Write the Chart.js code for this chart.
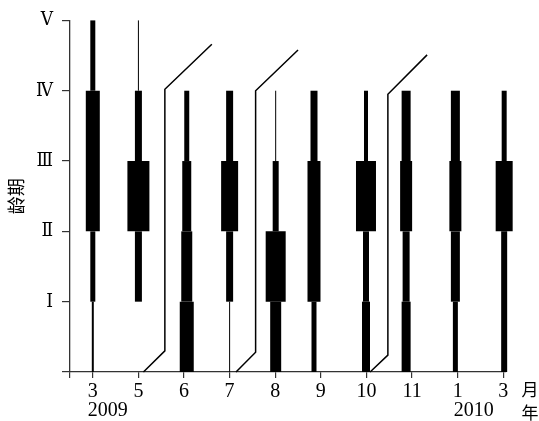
<!DOCTYPE html>
<html>
<head>
<meta charset="utf-8">
<script src="https://cdn.jsdelivr.net/npm/chart.js@4"></script>
<style>
  html, body { margin: 0; padding: 0; background: #fff; }
  #wrap { width: 539px; height: 421px; }
</style>
</head>
<body>
<div id="wrap"><canvas id="c"></canvas></div>
<script>
// 月份 (横轴), 2009-03 到 2010-03
const MONTHS = ["3", "5", "6", "7", "8", "9", "10", "11", "1", "3"];
// 纵轴龄期
const AGE_LABELS = ["", "Ⅰ", "Ⅱ", "Ⅲ", "Ⅳ", "Ⅴ"];
// 每月柱子所在位置 (以月份序号计)
const BAR_POS = [0, 1.0, 2.06, 3.0, 4.01, 4.85, 5.99, 6.87, 7.95, 9.02];

// 各月各龄期的相对数量: [0-Ⅰ, Ⅰ-Ⅱ, Ⅱ-Ⅲ, Ⅲ-Ⅳ, Ⅳ-Ⅴ], 0 = 无
const M2009_03 = [2, 5, 14, 14, 5];
const M2009_05 = [0, 7, 22, 7, 1];
const M2009_06 = [14, 11, 9, 5, 0];
const M2009_07 = [1, 7, 17, 7, 0];
const M2009_08 = [11, 20, 6, 1, 0];
const M2009_09 = [5, 13, 13, 7, 0];
const M2009_10 = [8, 6, 20, 4, 0];
const M2009_11 = [9, 7, 12, 9, 0];
const M2010_01 = [5, 9, 12, 9, 0];
const M2010_03 = [6, 6, 17, 5, 0];
const AMOUNTS = [M2009_03, M2009_05, M2009_06, M2009_07, M2009_08,
                 M2009_09, M2009_10, M2009_11, M2010_01, M2010_03];

// 世代分界折线
const GEN_LINE_1 = [{ x: 1.11, y: 0 }, { x: 1.58, y: 0.30 }, { x: 1.58, y: 4.02 }, { x: 2.61, y: 4.66 }];
const GEN_LINE_2 = [{ x: 3.14, y: 0 }, { x: 3.57, y: 0.28 }, { x: 3.57, y: 4.0 }, { x: 4.50, y: 4.58 }];
const GEN_LINE_3 = [{ x: 6.08, y: 0 }, { x: 6.47, y: 0.24 }, { x: 6.47, y: 3.95 }, { x: 7.33, y: 4.51 }];

const PX_PER_UNIT = 1; // 相对数量 -> 线宽

function barDataset(i) {
    const amt = AMOUNTS[i];
    // 只取有数量的连续龄期段
    let first = amt.findIndex((v) => v > 0);
    let last = amt.length - 1;
    while (amt[last] === 0) last--;
    const pts = [];
    for (let k = first; k <= last + 1; k++) {
        pts.push({ x: BAR_POS[i], y: k });
    }
    return {
        data: pts,
        borderColor: "#000",
        borderWidth: 1,
        pointRadius: 0,
        borderCapStyle: "butt",
        clip: false,
        segment: {
            borderWidth: (ctx) => amt[first + ctx.p0DataIndex] * PX_PER_UNIT,
        },
    };
}

function genDataset(pts) {
    return {
        data: pts,
        borderColor: "#000",
        borderWidth: 1.5,
        pointRadius: 0,
        tension: 0,
        clip: false,
    };
}

const serif = '"Liberation Serif", "DejaVu Serif", serif';
const romanFont = '"DejaVu Serif Condensed", "DejaVu Serif", serif';

// 年份和 "月/年" 标注
const yearPlugin = {
    id: "yearLabels",
    afterDraw(chart) {
        const ctx = chart.ctx;
        const x = chart.scales.x;
        ctx.save();
        ctx.fillStyle = "#000";
        ctx.font = "20px " + serif;
        ctx.textAlign = "center";
        ctx.textBaseline = "middle";
        ctx.fillText("2009", x.getPixelForValue(0) + 15, 411);
        ctx.fillText("2010", x.getPixelForValue(8) + 16, 411);
        ctx.font = '17px "Noto Sans CJK SC"';
        ctx.fillText("月", 530, 390);
        ctx.fillText("年", 530, 413);
        ctx.restore();
    },
};

const datasets = AMOUNTS.map((_, i) => barDataset(i));
datasets.push(genDataset(GEN_LINE_1), genDataset(GEN_LINE_2), genDataset(GEN_LINE_3));

new Chart(document.getElementById("c"), {
    type: "line",
    data: { datasets },
    options: {
        responsive: true,
        maintainAspectRatio: false,
        animation: false,
        layout: { padding: { top: 18, right: 33, left: 0, bottom: 0 } },
        plugins: { legend: { display: false }, tooltip: { enabled: false } },
        scales: {
            x: {
                type: "linear",
                min: -0.5,
                max: 9.06,
                afterBuildTicks: (s) => {
                    s.ticks = [-0.5, 0, 1, 2, 3, 4, 5, 6, 7, 8, 9].map((v) => ({ value: v }));
                },
                afterFit: (s) => { s.height = 49; },
                ticks: {
                    autoSkip: false,
                    maxRotation: 0,
                    padding: 2,
                    color: "#000",
                    font: { family: serif, size: 20 },
                    callback: (v) => (Number.isInteger(v) ? MONTHS[v] : ""),
                },
                grid: { drawOnChartArea: false, drawTicks: true, tickLength: 6, color: "#333", lineWidth: 1.2 },
                border: { display: true, color: "#333", width: 1.3 },
            },
            y: {
                min: 0,
                max: 5,
                afterFit: (s) => { s.width = 70; },
                ticks: {
                    stepSize: 1,
                    padding: 9,
                    color: "#000",
                    font: { family: romanFont, size: 19 },
                    callback: (v) => AGE_LABELS[v],
                },
                grid: { drawOnChartArea: false, drawTicks: true, tickLength: 8, color: "#333", lineWidth: 1.2 },
                border: { display: true, color: "#333", width: 1.3 },
                title: {
                    display: true,
                    text: "龄期",
                    color: "#000",
                    font: { family: '"Noto Sans CJK SC"', size: 18 },
                    padding: { top: 5, bottom: 0 },
                },
            },
        },
    },
    plugins: [yearPlugin],
});
</script>
</body>
</html>
